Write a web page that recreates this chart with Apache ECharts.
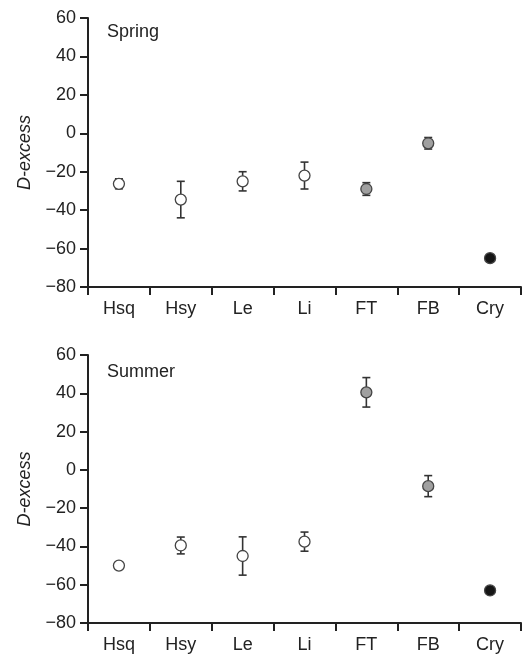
<!DOCTYPE html>
<html>
<head>
<meta charset="utf-8">
<script src="https://cdn.jsdelivr.net/npm/echarts@6/dist/echarts.min.js"></script>
<style>
html,body{margin:0;padding:0;background:#fff;}
#chart{width:530px;height:656px;}
</style>
</head>
<body>
<div id="chart"></div>
<script>
// ---- data ----
var categories = ['Hsq', 'Hsy', 'Le', 'Li', 'FT', 'FB', 'Cry'];
var springMean = [-26.3, -34.5, -25, -22, -29, -5.2, -65];
var springErr  = [2.6, 9.5, 5, 7, 3.3, 3, 1.8];
var summerMean = [-50, -39.5, -45, -37.5, 40.5, -8.5, -63];
var summerErr  = [0, 4.4, 10, 5, 7.7, 5.5, 0];
var yTicks = [-80, -60, -40, -20, 0, 20, 40, 60];
var panelNames = ['Spring', 'Summer'];

// ---- styles ----
var fillByCategory = {Hsq:'#ffffff', Hsy:'#ffffff', Le:'#ffffff', Li:'#ffffff', FT:'#a0a0a0', FB:'#a0a0a0', Cry:'#151515'};
var FONT = 'Liberation Sans, Arial, sans-serif';
var AX = '#222222';
var FS = 18;

var chart = echarts.init(document.getElementById('chart'), null, {renderer:'canvas'});

function errSeries(idx, mean, err) {
  return {
    type: 'custom',
    xAxisIndex: idx, yAxisIndex: idx,
    z: 2,
    data: categories.map(function (c, i) { return [i, mean[i] - err[i], mean[i] + err[i]]; }),
    renderItem: function (params, api) {
      var x = api.value(0);
      var lo = api.coord([x, api.value(1)]);
      var hi = api.coord([x, api.value(2)]);
      var hw = 4;
      var st = {stroke: '#333', lineWidth: 1.6};
      return {
        type: 'group',
        children: [
          {type:'line', shape:{x1:lo[0], y1:lo[1], x2:hi[0], y2:hi[1]}, style:st},
          {type:'line', shape:{x1:lo[0]-hw, y1:lo[1], x2:lo[0]+hw, y2:lo[1]}, style:st},
          {type:'line', shape:{x1:hi[0]-hw, y1:hi[1], x2:hi[0]+hw, y2:hi[1]}, style:st}
        ]
      };
    }
  };
}

function pointSeries(idx, mean) {
  return {
    type: 'scatter',
    xAxisIndex: idx, yAxisIndex: idx,
    z: 5,
    symbol: 'circle',
    symbolSize: 11,
    data: categories.map(function (c, i) {
      return {value: [i, mean[i]], itemStyle: {color: fillByCategory[c]}};
    }),
    itemStyle: {borderColor: '#444', borderWidth: 1.3, opacity: 1}
  };
}

function xAxis(idx) {
  return {
    type: 'category', gridIndex: idx, data: categories, boundaryGap: true,
    axisLine: {onZero: false, lineStyle: {color: AX, width: 2}},
    axisTick: {show: true, length: 8, inside: false, alignWithLabel: false, lineStyle: {color: AX, width: 2}},
    axisLabel: {color: '#222', fontSize: FS, fontFamily: FONT, margin: 13, interval: 0},
    splitLine: {show: false}
  };
}
function yAxis(idx) {
  return {
    type: 'value', gridIndex: idx, min: yTicks[0], max: yTicks[yTicks.length-1], interval: 20,
    name: 'D-excess', nameLocation: 'middle', nameGap: 54,
    nameTextStyle: {fontStyle: 'italic', fontSize: FS, fontFamily: FONT, color: '#222'},
    axisLine: {show: true, onZero: false, lineStyle: {color: AX, width: 2}},
    axisTick: {show: true, length: 8, inside: false, lineStyle: {color: AX, width: 2}},
    axisLabel: {color: '#222', fontSize: FS, fontFamily: FONT, margin: 12,
      formatter: function (v) { return String(v).replace('-', '\u2212'); }},
    splitLine: {show: false}
  };
}

var option = {
  backgroundColor: '#ffffff',
  animation: false,
  title: [
    {text: panelNames[0], left: 102, top: 18, textStyle: {fontSize: FS, fontWeight: 'normal', fontFamily: FONT, color: '#222'}},
    {text: panelNames[1], left: 102, top: 358, textStyle: {fontSize: FS, fontWeight: 'normal', fontFamily: FONT, color: '#222'}}
  ],
  grid: [
    {left: 88, right: 9, top: 18, height: 269},
    {left: 88, right: 9, top: 355, height: 268}
  ],
  xAxis: [xAxis(0), xAxis(1)],
  yAxis: [yAxis(0), yAxis(1)],
  series: [
    errSeries(0, springMean, springErr),
    pointSeries(0, springMean),
    errSeries(1, summerMean, summerErr),
    pointSeries(1, summerMean)
  ]
};
chart.setOption(option);
</script>
</body>
</html>
